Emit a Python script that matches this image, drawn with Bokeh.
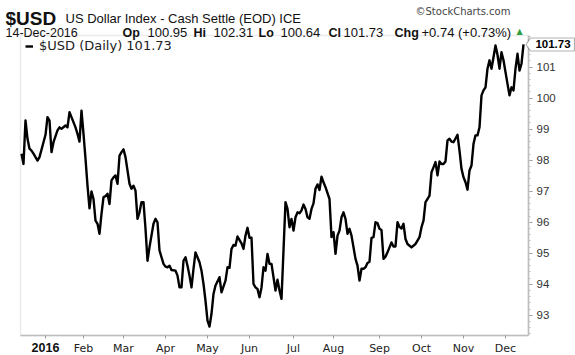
from bokeh.plotting import figure
from bokeh.models import (Range1d, FixedTicker, Label, Legend, LegendItem, PolyAnnotation,
                          BoxAnnotation, LinearAxis)
from bokeh.embed import file_html
from bokeh.resources import INLINE
import numpy as np

# trading-day offset from 4-Jan-2016 and $USD close
days = [-12, -11, -10, -9, -8, -7, -6, -4, -3, -1, 0, 1, 2, 3, 4, 6, 7, 8, 10, 11,
        12, 13, 15, 16, 17, 18, 19, 20, 21, 22, 23, 24, 25, 26, 27, 28, 29, 30, 31, 32,
        33, 34, 35, 36, 37, 38, 39, 40, 42, 43, 44, 45, 46, 47, 48, 49, 50, 51, 52, 54,
        55, 56, 57, 59, 60, 61, 62, 63, 65, 66, 67, 68, 69, 70, 71, 72, 73, 74, 75, 77,
        78, 79, 80, 81, 82, 83, 84, 85, 87, 88, 90, 91, 92, 93, 94, 95, 96, 98, 99, 100,
        101, 102, 103, 104, 105, 106, 107, 108, 109, 110, 111, 112, 113, 115, 116, 117, 118, 120, 121, 122,
        123, 124, 125, 126, 127, 128, 129, 130, 131, 132, 133, 134, 135, 136, 137, 138, 139, 140, 142, 143,
        144, 145, 146, 147, 148, 149, 150, 151, 152, 153, 155, 156, 157, 158, 159, 160, 161, 162, 163, 164,
        165, 166, 167, 168, 169, 170, 171, 172, 173, 174, 175, 176, 177, 178, 179, 180, 181, 183, 185, 186,
        187, 188, 189, 190, 191, 192, 193, 194, 195, 196, 197, 198, 199, 200, 201, 202, 203, 204, 206, 207,
        208, 209, 210, 211, 212, 213, 214, 215, 216, 217, 218, 219, 220, 221, 222, 223, 224, 225, 226, 227,
        228, 229, 230, 231, 232, 233, 234, 235, 236, 237, 238, 239]
usd = [98.21, 97.88, 99.28, 98.69, 98.37, 98.31, 98.21, 97.99, 98.10, 98.58, 98.82, 99.39, 99.28, 98.26, 98.58, 98.96, 99.06, 99.01, 99.12, 99.06,
       99.55, 99.39, 99.06, 98.85, 98.60, 99.60, 98.85, 98.05, 97.18, 96.45, 96.99, 96.75, 96.05, 95.95, 95.63, 96.27, 96.81, 96.84, 96.92, 96.59,
       97.35, 97.45, 97.51, 97.24, 98.15, 98.26, 98.35, 98.10, 97.24, 97.08, 97.18, 97.02, 96.11, 96.32, 96.65, 96.65, 95.79, 94.76, 95.20, 95.95,
       96.11, 96.00, 95.09, 94.66, 94.57, 94.55, 94.60, 94.46, 94.44, 94.28, 93.90, 93.90, 94.76, 94.87, 94.60, 94.28, 93.90, 94.50, 95.03, 94.71,
       94.44, 94.01, 93.47, 92.83, 92.64, 93.05, 93.69, 93.96, 94.23, 93.74, 94.12, 94.55, 94.53, 95.14, 95.27, 95.25, 95.54, 95.32, 95.14, 95.57,
       95.82, 95.50, 95.50, 94.01, 93.90, 93.85, 93.58, 93.90, 94.55, 94.44, 94.98, 94.66, 94.66, 93.80, 94.15, 93.80, 93.53, 96.65, 96.43, 95.84,
       96.11, 95.73, 96.16, 96.32, 96.29, 96.38, 96.57, 96.43, 96.16, 96.11, 96.43, 96.61, 97.08, 97.22, 97.04, 97.47, 97.29, 97.13, 96.75, 95.52,
       95.68, 94.98, 95.57, 95.73, 96.16, 96.32, 96.11, 95.63, 95.79, 95.57, 94.82, 94.60, 94.12, 94.50, 94.50, 94.55, 94.69, 94.73, 95.50, 95.52,
       96.00, 95.97, 95.79, 95.75, 94.82, 94.89, 95.03, 95.19, 95.35, 95.22, 95.22, 96.00, 95.85, 95.80, 95.95, 95.46, 95.30, 95.19, 95.30, 95.41,
       95.52, 95.84, 96.05, 96.65, 96.75, 96.86, 97.61, 97.77, 97.94, 97.51, 97.96, 97.88, 97.88, 97.96, 98.64, 98.69, 98.60, 98.58, 98.82, 98.31,
       97.72, 97.45, 97.29, 97.05, 97.67, 97.83, 98.53, 98.80, 98.80, 99.06, 100.09, 100.25, 100.35, 100.95, 101.22, 100.95, 101.32, 101.70, 101.40, 100.95,
       101.48, 101.22, 100.84, 100.46, 100.09, 100.35, 100.25, 100.95, 101.43, 100.89, 101.11, 101.73]

month_days = [0, 19, 39, 60, 81, 102, 124, 144, 167, 188, 209, 230]
month_labels = ["2016", "Feb", "Mar", "Apr", "May", "Jun", "Jul", "Aug", "Sep", "Oct", "Nov", "Dec"]
y_ticks = [93, 94, 95, 96, 97, 98, 99, 100, 101]

last_value = "101.73"
legend_text = "$USD (Daily) 101.73"
ohlc = [("Op", "100.95"), ("Hi", "102.31"), ("Lo", "100.64"), ("Cl", "101.73")]
chg = ("Chg", "+0.74 (+0.73%)")

# ---- layout geometry (pixels) ----
W, H = 575, 355
PL, PR, PT, PB = 20, 528, 35, 335          # plot area edges on the canvas
X0, X1 = -12.5, 241.5                       # data x at plot-area edges
Y0, Y1 = 92.35, 102.02                      # data y at plot-area edges
sx = (X1 - X0) / (PR - PL)                  # data per pixel
sy = (Y1 - Y0) / (PB - PT)
xr = Range1d(X0 - PL * sx, X1 + (W - PR) * sx)
yr = Range1d(Y0 - (H - PB) * sy, Y1 + PT * sy)

p = figure(width=W, height=H, output_backend="svg", toolbar_location=None,
           x_range=xr, y_range=yr, x_axis_location=None, y_axis_location=None,
           min_border=0, min_border_left=0, min_border_right=0,
           min_border_top=0, min_border_bottom=0)
p.background_fill_color = "white"
p.border_fill_color = "white"
p.outline_line_color = None
p.xgrid.visible = False
p.ygrid.visible = False

# plot-area frame
p.add_layout(BoxAnnotation(left=X0, right=X1, bottom=Y0, top=Y1, fill_alpha=0,
                           line_color="#bdbdbd", line_width=1.5, level="underlay"))

r = p.line(days, usd, line_color="black", line_width=2.4, line_join="round")

# axes (fixed at the plot-area edges)
yax = LinearAxis(fixed_location=X1, bounds=(Y0, Y1))
yax.ticker = FixedTicker(ticks=y_ticks, minor_ticks=list(np.round(np.arange(92.4, 102.01, 0.2), 2)))
yax.axis_line_color = "#bdbdbd"
yax.axis_line_width = 1.5
yax.major_tick_line_color = "#9a9a9a"
yax.minor_tick_line_color = "#bdbdbd"
yax.major_tick_out = 4
yax.major_tick_in = 0
yax.minor_tick_out = 2
yax.minor_tick_in = 0
yax.major_label_standoff = 4
yax.major_label_text_font = "Liberation Sans"
yax.major_label_text_font_size = "11.5px"
yax.major_label_text_color = "#333333"
p.add_layout(yax, "right")

xax = LinearAxis(fixed_location=Y0, bounds=(X0, X1))
xax.ticker = FixedTicker(ticks=month_days)
xax.major_label_overrides = {d: ("" if lab == "2016" else lab) for d, lab in zip(month_days, month_labels)}
xax.axis_line_color = "#bdbdbd"
xax.axis_line_width = 1.5
xax.major_tick_line_color = "#9a9a9a"
xax.major_tick_out = 3
xax.major_tick_in = 0
xax.minor_tick_line_color = None
xax.major_label_standoff = 3
xax.major_label_text_font = "DejaVu Sans"
xax.major_label_text_font_size = "11px"
xax.major_label_text_color = "#222222"
p.add_layout(xax, "below")

p.add_layout(Label(x=month_days[0], y=H - 347, x_units="data", y_units="screen", text=month_labels[0],
                   text_font="Liberation Sans", text_font_size="12.5px", text_font_style="bold",
                   text_align="center", text_baseline="alphabetic", text_color="#111111"))

# legend
leg = Legend(items=[LegendItem(label=legend_text, renderers=[r])], location=(PL + 2, H - 56),
             border_line_alpha=0, background_fill_alpha=0, margin=0, padding=3,
             glyph_width=8, glyph_height=10, label_standoff=6,
             label_text_font="DejaVu Sans", label_text_font_size="13px", label_text_color="#222222")
p.add_layout(leg)

# last value marker box on the right axis
lv = usd[-1]
box_xs = [X1 - 2.5 * sx, X1 + 2 * sx, X1 + 46 * sx, X1 + 46 * sx, X1 + 2 * sx]
box_ys = [lv, lv + 6.5 * sy, lv + 6.5 * sy, lv - 6.5 * sy, lv - 6.5 * sy]
p.add_layout(PolyAnnotation(xs=box_xs, ys=box_ys, fill_color="white", fill_alpha=1,
                            line_color="black", line_width=1.2))
p.add_layout(Label(x=X1 + 24.5 * sx, y=lv, text=last_value, text_align="center", text_baseline="middle",
                   text_font="Liberation Sans", text_font_size="11.5px", text_font_style="bold",
                   text_color="black"))

# header (screen units: x from canvas left, y up from canvas bottom)
def lab(cx, cy, t, size="13px", bold=False, color="#111111", font="Liberation Sans"):
    p.add_layout(Label(x=cx, y=H - cy, x_units="screen", y_units="screen", text=t,
                       text_font=font, text_font_size=size,
                       text_font_style="bold" if bold else "normal",
                       text_color=color, text_baseline="alphabetic", text_align="left"))

lab(5, 18, "$USD", size="19px", bold=True)
lab(65, 18, "US Dollar Index - Cash Settle (EOD) ICE", size="13px")
lab(415, 11, "\u00a9StockCharts.com", size="10px", color="#444444", font="DejaVu Sans")

lab(5, 32, "14-Dec-2016", size="12.5px")
ohlc_x = [122, 193, 258, 328]
val_x = [147, 213, 280, 343]
for (k, v), kx, vx in zip(ohlc, ohlc_x, val_x):
    lab(kx, 32, k, size="12.5px", bold=True)
    lab(vx, 32, v, size="13px")
lab(394, 32, chg[0], size="12.5px", bold=True)
lab(421, 32, chg[1], size="13px")
lab(516, 31, "\u25b2", size="8px", color="#2e9e3e", font="DejaVu Sans")

open("out.html", "w").write(file_html(p, INLINE))
